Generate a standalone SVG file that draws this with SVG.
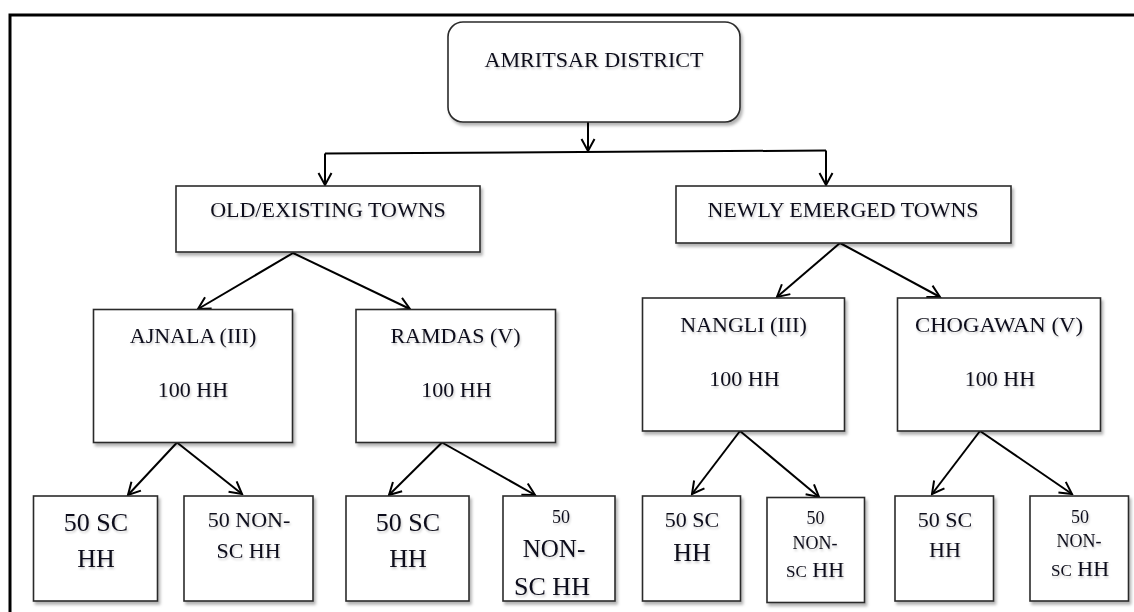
<svg xmlns="http://www.w3.org/2000/svg" width="1134" height="612" viewBox="0 0 1134 612">
<style>
.box{fill:#fff;stroke:#2a2a2a;stroke-width:1.6;filter:url(#sh)}
.t{fill:#10101c;text-anchor:middle;filter:url(#tsh)}
.c{fill:none;stroke:#000;stroke-width:2;marker-end:url(#arr)}
.ln{fill:none;stroke:#000;stroke-width:2}
</style>
<defs>
<filter id="sh" x="-10%" y="-10%" width="130%" height="130%">
<feDropShadow dx="2" dy="3" stdDeviation="1.8" flood-color="#000" flood-opacity="0.3"/>
</filter>
<filter id="tsh" x="-10%" y="-30%" width="130%" height="180%">
<feDropShadow dx="1" dy="2" stdDeviation="1.2" flood-color="#000" flood-opacity="0.2"/>
</filter>
<marker id="arr" viewBox="-13 -8 15 16" refX="0" refY="0" markerWidth="15" markerHeight="16" markerUnits="userSpaceOnUse" orient="auto">
<path d="M-12,-6.5 L0,0 L-12,6.5" fill="none" stroke="#000" stroke-width="2"/>
</marker>
</defs>
<rect x="0" y="0" width="1134" height="612" fill="#fff"/>
<path d="M10,612 V15 H1134" fill="none" stroke="#000" stroke-width="3"/>

<g id="connectors">
<path class="c" d="M588,122 V151"/>
<path class="ln" d="M325,153.5 L826,150.5"/>
<path class="c" d="M325,153.5 V185"/>
<path class="c" d="M826,150.5 V185"/>
<path class="c" d="M293,253 L198,309"/>
<path class="c" d="M293,253 L410,309"/>
<path class="c" d="M840,243 L777,297"/>
<path class="c" d="M840,243 L940,297"/>
<path class="c" d="M177,442.5 L128,495"/>
<path class="c" d="M177,442.5 L242,494"/>
<path class="c" d="M442,442.5 L389,495"/>
<path class="c" d="M442,442.5 L535,495"/>
<path class="c" d="M740,431 L692,494"/>
<path class="c" d="M740,431 L819,497"/>
<path class="c" d="M980,431 L932,494"/>
<path class="c" d="M980,431 L1072,494"/>
</g>

<g font-family="Liberation Serif, Times New Roman, serif">
<g id="amritsar">
<rect class="box" x="448" y="22" width="292" height="100" rx="15"/>
<text class="t" x="594" y="67" font-size="22" textLength="219" lengthAdjust="spacingAndGlyphs">AMRITSAR DISTRICT</text>
</g>
<g id="old">
<rect class="box" x="176" y="186" width="304" height="66"/>
<text class="t" x="328" y="217" font-size="22">OLD/EXISTING TOWNS</text>
</g>
<g id="newly">
<rect class="box" x="676" y="186" width="335" height="57"/>
<text class="t" x="843" y="217" font-size="22">NEWLY EMERGED TOWNS</text>
</g>
<g id="ajnala">
<rect class="box" x="93.5" y="309.5" width="199" height="133"/>
<text class="t" x="193" y="343" font-size="22">AJNALA (III)</text>
<text class="t" x="193" y="397" font-size="22">100 HH</text>
</g>
<g id="ramdas">
<rect class="box" x="356" y="309.5" width="199.5" height="133"/>
<text class="t" x="455.5" y="343" font-size="22">RAMDAS (V)</text>
<text class="t" x="456.5" y="397" font-size="22">100 HH</text>
</g>
<g id="nangli">
<rect class="box" x="642.5" y="298" width="202" height="133"/>
<text class="t" x="743.5" y="332" font-size="22">NANGLI (III)</text>
<text class="t" x="744.5" y="386" font-size="22">100 HH</text>
</g>
<g id="chogawan">
<rect class="box" x="897.5" y="298" width="203" height="133"/>
<text class="t" x="999" y="332" font-size="22" textLength="168" lengthAdjust="spacingAndGlyphs">CHOGAWAN (V)</text>
<text class="t" x="1000" y="386" font-size="22">100 HH</text>
</g>

<g id="sc1">
<rect class="box" x="33.5" y="496" width="124" height="105"/>
<text class="t" x="96" y="531" font-size="26">50 SC</text>
<text class="t" x="96" y="567" font-size="26">HH</text>
</g>
<g id="nonsc1">
<rect class="box" x="184" y="496" width="129" height="105"/>
<text class="t" x="249" y="527" font-size="22">50 NON-</text>
<text class="t" x="248.5" y="558" font-size="22">SC HH</text>
</g>
<g id="sc2">
<rect class="box" x="346" y="496" width="123" height="105"/>
<text class="t" x="408" y="531" font-size="26">50 SC</text>
<text class="t" x="408" y="567" font-size="26">HH</text>
</g>
<g id="nonsc2">
<rect class="box" x="503" y="496" width="112" height="105"/>
<text class="t" x="561" y="523" font-size="18">50</text>
<text class="t" x="554" y="557" font-size="25">NON-</text>
<text class="t" x="552" y="595" font-size="26">SC HH</text>
</g>
<g id="sc3">
<rect class="box" x="642.5" y="496" width="98" height="105"/>
<text class="t" x="692" y="527" font-size="22">50 SC</text>
<text class="t" x="692" y="561" font-size="26">HH</text>
</g>
<g id="nonsc3">
<rect class="box" x="767" y="497.5" width="97.5" height="105"/>
<text class="t" x="815.5" y="524" font-size="18">50</text>
<text class="t" x="815" y="549" font-size="18">NON-</text>
<text class="t" x="815" y="577"><tspan font-size="17">SC</tspan><tspan font-size="22"> HH</tspan></text>
</g>
<g id="sc4">
<rect class="box" x="895" y="496" width="98.5" height="105"/>
<text class="t" x="945" y="527" font-size="22">50 SC</text>
<text class="t" x="945" y="557" font-size="22">HH</text>
</g>
<g id="nonsc4">
<rect class="box" x="1030" y="496" width="98.5" height="105"/>
<text class="t" x="1080" y="523" font-size="18">50</text>
<text class="t" x="1079" y="547" font-size="18">NON-</text>
<text class="t" x="1080" y="576"><tspan font-size="17">SC</tspan><tspan font-size="22"> HH</tspan></text>
</g>
</g>
</svg>
